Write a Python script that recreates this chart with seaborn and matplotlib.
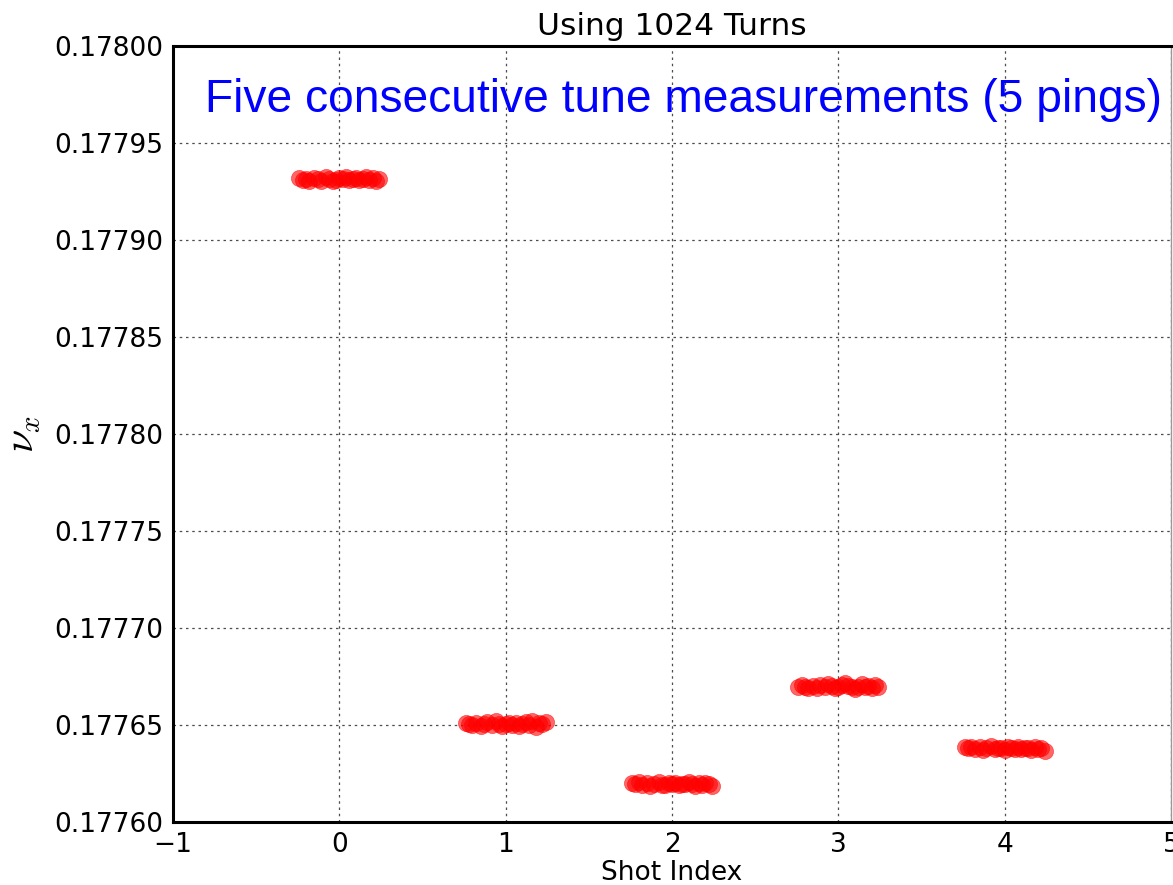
import matplotlib
matplotlib.use("Agg")
import matplotlib.pyplot as plt
import seaborn as sns
import pandas as pd

# ---- data ----
shot_index = [0, 1, 2, 3, 4]

x_shot0 = [-0.24, -0.22, -0.20, -0.18, -0.15, -0.13, -0.11, -0.08, -0.06, -0.04, -0.02, 0.00,
           0.02, 0.04, 0.06, 0.08, 0.10, 0.12, 0.14, 0.16, 0.18, 0.20, 0.22, 0.24]
nu_shot0 = [0.1779322, 0.1779308, 0.1779316, 0.1779304, 0.1779318, 0.1779312, 0.1779306, 0.1779324,
            0.1779314, 0.1779305, 0.1779310, 0.1779320, 0.1779313, 0.1779326, 0.1779307, 0.1779317,
            0.1779321, 0.1779309, 0.1779314, 0.1779327, 0.1779311, 0.1779318, 0.1779305, 0.1779315]

x_shot1 = [0.76, 0.78, 0.80, 0.82, 0.85, 0.87, 0.89, 0.92, 0.94, 0.96, 0.98, 1.00,
           1.02, 1.04, 1.06, 1.08, 1.10, 1.12, 1.14, 1.16, 1.18, 1.20, 1.22, 1.24]
nu_shot1 = [0.1776512, 0.1776505, 0.1776498, 0.1776510, 0.1776493, 0.1776503, 0.1776514, 0.1776500,
            0.1776519, 0.1776507, 0.1776496, 0.1776505, 0.1776511, 0.1776500, 0.1776509, 0.1776497,
            0.1776506, 0.1776516, 0.1776502, 0.1776521, 0.1776492, 0.1776509, 0.1776504, 0.1776514]

x_shot2 = [1.76, 1.78, 1.80, 1.82, 1.85, 1.87, 1.89, 1.92, 1.94, 1.96, 1.98, 2.00,
           2.02, 2.04, 2.06, 2.08, 2.10, 2.12, 2.14, 2.16, 2.18, 2.20, 2.22, 2.24]
nu_shot2 = [0.1776202, 0.1776196, 0.1776205, 0.1776190, 0.1776199, 0.1776187, 0.1776197, 0.1776204,
            0.1776193, 0.1776189, 0.1776200, 0.1776195, 0.1776202, 0.1776190, 0.1776198, 0.1776194,
            0.1776204, 0.1776196, 0.1776188, 0.1776199, 0.1776193, 0.1776203, 0.1776197, 0.1776186]

x_shot3 = [2.76, 2.78, 2.80, 2.82, 2.85, 2.87, 2.89, 2.92, 2.94, 2.96, 2.98, 3.00,
           3.02, 3.04, 3.06, 3.08, 3.10, 3.12, 3.14, 3.16, 3.18, 3.20, 3.22, 3.24]
nu_shot3 = [0.1776698, 0.1776704, 0.1776694, 0.1776689, 0.1776700, 0.1776692, 0.1776706, 0.1776696,
            0.1776713, 0.1776701, 0.1776690, 0.1776698, 0.1776708, 0.1776715, 0.1776699, 0.1776694,
            0.1776683, 0.1776698, 0.1776709, 0.1776695, 0.1776702, 0.1776691, 0.1776705, 0.1776698]

x_shot4 = [3.76, 3.78, 3.80, 3.82, 3.85, 3.87, 3.89, 3.92, 3.94, 3.96, 3.98, 4.00,
           4.02, 4.04, 4.06, 4.08, 4.10, 4.12, 4.14, 4.16, 4.18, 4.20, 4.22, 4.24]
nu_shot4 = [0.1776386, 0.1776380, 0.1776389, 0.1776377, 0.1776385, 0.1776373, 0.1776382, 0.1776390,
            0.1776375, 0.1776384, 0.1776379, 0.1776371, 0.1776386, 0.1776381, 0.1776376, 0.1776389,
            0.1776374, 0.1776384, 0.1776379, 0.1776372, 0.1776386, 0.1776377, 0.1776382, 0.1776368]

x_ticks = [-1, 0, 1, 2, 3, 4, 5]
y_ticks = [0.17760, 0.17765, 0.17770, 0.17775, 0.17780, 0.17785, 0.17790, 0.17795, 0.17800]

title_text = "Using 1024 Turns"
note_text = "Five consecutive tune measurements (5 pings)"

frames = []
for s, xs, ys in zip(shot_index,
                     [x_shot0, x_shot1, x_shot2, x_shot3, x_shot4],
                     [nu_shot0, nu_shot1, nu_shot2, nu_shot3, nu_shot4]):
    frames.append(pd.DataFrame({"shot": s, "x": xs, "nu": ys}))
df = pd.concat(frames, ignore_index=True)

# ---- plot ----
sns.set_style("white")
plt.rcParams["font.family"] = ["DejaVu Sans"]
plt.rcParams["mathtext.fontset"] = "cm"
plt.rcParams["text.color"] = "black"
plt.rcParams["axes.labelcolor"] = "black"
plt.rcParams["xtick.color"] = "black"
plt.rcParams["ytick.color"] = "black"

fig = plt.figure(figsize=(11.73, 8.85), dpi=100)
ax = fig.add_axes([173 / 1173, 1 - 822 / 885, (1171 - 173) / 1173, (822 - 46) / 885])

sns.scatterplot(data=df, x="x", y="nu", ax=ax, color="red", alpha=0.6,
                s=135, edgecolor="red", linewidth=0.5, legend=False)

ax.set_xlim(-1, 5)
ax.set_ylim(0.17760, 0.17800)
ax.set_xticks(x_ticks)
ax.set_yticks(y_ticks)
ax.set_xticklabels([str(t) if t >= 0 else "\u22121" for t in x_ticks])
ax.set_yticklabels([f"{t:.5f}" for t in y_ticks])
ax.tick_params(axis="both", labelsize=19, direction="in", length=5, width=1, pad=7,
               colors="black")

ax.grid(True, color="0.3", linestyle=(0, (2, 3)), linewidth=0.9)
ax.set_axisbelow(True)

for side in ["left", "top", "bottom"]:
    ax.spines[side].set_linewidth(2.2)
    ax.spines[side].set_color("black")
ax.spines["right"].set_linewidth(1)
ax.spines["right"].set_color("0.6")

ax.set_title(title_text, fontsize=22.5, pad=8, color="black")
ax.set_xlabel("Shot Index", fontsize=19, labelpad=2, color="black")
ax.set_ylabel(r"$\nu_x$", fontsize=30, labelpad=8, color="black")

ax.text(-0.81, 0.177966, note_text, color="blue", fontsize=33.2,
        family=["Liberation Sans", "DejaVu Sans"], ha="left", va="baseline")

fig.savefig("out.png", dpi=100)
